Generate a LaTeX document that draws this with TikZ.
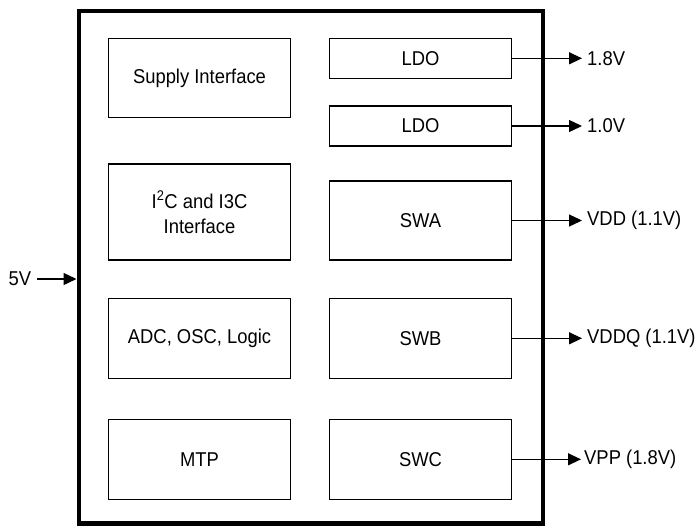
\documentclass[tikz,border=0pt]{standalone}
\usepackage{fontspec}
\setmainfont{Liberation Sans}[FakeStretch=0.92]
\usetikzlibrary{arrows.meta}
\begin{document}
\begin{tikzpicture}[x=1pt,y=-1pt,
  blk/.style={draw,line width=1.2pt,minimum width=182pt,inner sep=0pt,font=\fontsize{20}{25}\selectfont,align=center},
  arr/.style={line width=1.3pt,-{Triangle[length=13pt,width=12pt]}},
  lbl/.style={inner sep=0pt,font=\fontsize{20}{24}\selectfont}]
\useasboundingbox (0,0) rectangle (698,525);
\draw[line width=4.5pt] (79,11) rectangle (543,523.5);
% left column
\node[blk,minimum height=79pt] (sup) at (199.5,78) {Supply Interface};
\node[blk,minimum height=96pt] (i2c) at (199.5,212) {I\textsuperscript{2}C and I3C\\Interface};
\node[blk,minimum height=80pt] (adc) at (199.5,338.3) {ADC, OSC, Logic};
\node[blk,minimum height=80pt] (mtp) at (199.5,459.3) {MTP};
% right column
\node[blk,minimum height=40pt] (ldoa) at (420.5,58.3) {LDO};
\node[blk,minimum height=40pt] (ldob) at (420.5,126) {LDO};
\node[blk,minimum height=79pt] (swa) at (420.5,220.5) {SWA};
\node[blk,minimum height=80pt] (swb) at (420.5,338.3) {SWB};
\node[blk,minimum height=80pt] (swc) at (420.5,459.3) {SWC};
% outputs
\node[lbl,anchor=west] (va) at (587,58.3) {1.8V};
\node[lbl,anchor=west] (vb) at (587,126) {1.0V};
\node[lbl,anchor=west] (vc) at (587,220.5) {VDD (1.1V)};
\node[lbl,anchor=west] (vd) at (587,338.3) {VDDQ (1.1V)};
\node[lbl,anchor=west] (ve) at (584,459.3) {VPP (1.8V)};
\draw[arr] (ldoa.east) -- ([xshift=-5pt]va.west);
\draw[arr] (ldob.east) -- ([xshift=-5pt]vb.west);
\draw[arr] (swa.east) -- ([xshift=-5pt]vc.west);
\draw[arr] (swb.east) -- ([xshift=-5pt]vd.west);
\draw[arr] (swc.east) -- ([xshift=-3pt]ve.west);
% input
\node[lbl] (five) at (20,279) {5V};
\coordinate (inp) at (76.5,279);
\draw[arr] ([xshift=6pt]five.east) -- (inp);
\end{tikzpicture}
\end{document}
